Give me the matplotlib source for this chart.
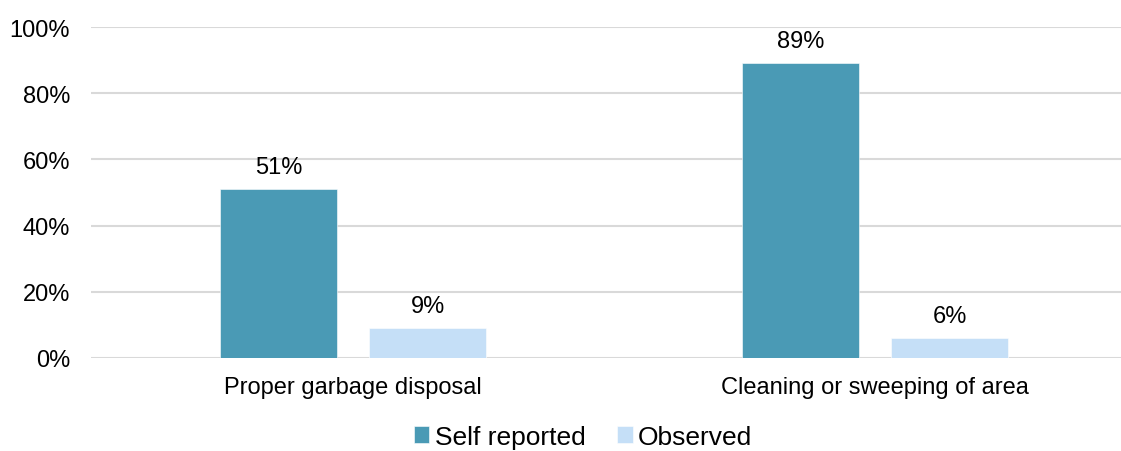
import matplotlib
matplotlib.use('Agg')
import matplotlib.pyplot as plt
import numpy as np

categories = ['Proper garbage disposal', 'Cleaning or sweeping of area']
self_reported = [51, 89]
observed = [9, 6]
series_names = ['Self reported', 'Observed']
colors = ['#4a9ab5', '#c5dff7']

plt.rcParams['font.family'] = ['Liberation Sans', 'DejaVu Sans']

fig = plt.figure(figsize=(11.21, 4.52), dpi=100)
ax = fig.add_axes([91 / 1121, 93 / 452, 1 - 91 / 1121, 331 / 452])

x = np.arange(len(categories))
width = 0.224
offset = 0.143

for vals, name, c, sign in zip([self_reported, observed], series_names, colors, [-1, 1]):
    bars = ax.bar(x + sign * offset, vals, width, color=c, label=name,
                  edgecolor='#ffffff', linewidth=0.4, zorder=3)
    for b, v in zip(bars, vals):
        ax.annotate('%d%%' % v, (b.get_x() + b.get_width() / 2, v),
                    xytext=(0, 8), textcoords='offset points',
                    ha='center', va='bottom', fontsize=17, color='#000000')

ax.set_xlim(-0.502, 1.471)
ax.set_ylim(0, 100)
ax.set_yticks(range(0, 101, 20))
ax.set_yticklabels(['%d%%' % t for t in range(0, 101, 20)])
ax.set_xticks(x)
ax.set_xticklabels(categories)
ax.tick_params(axis='both', length=0, labelsize=17, colors='#000000')
ax.tick_params(axis='y', pad=15)
ax.tick_params(axis='x', pad=13)

ax.grid(axis='y', color='#d9d9d9', linewidth=1.5, zorder=0)
for s in ax.spines.values():
    s.set_visible(False)

leg = fig.legend(loc='center', bbox_to_anchor=(583 / 1121, 1 - 438 / 452),
                 ncol=2, frameon=False, fontsize=19, handlelength=0.6,
                 handleheight=0.6, handletextpad=0.2, columnspacing=1.2)

fig.savefig('out.png', dpi=100)
